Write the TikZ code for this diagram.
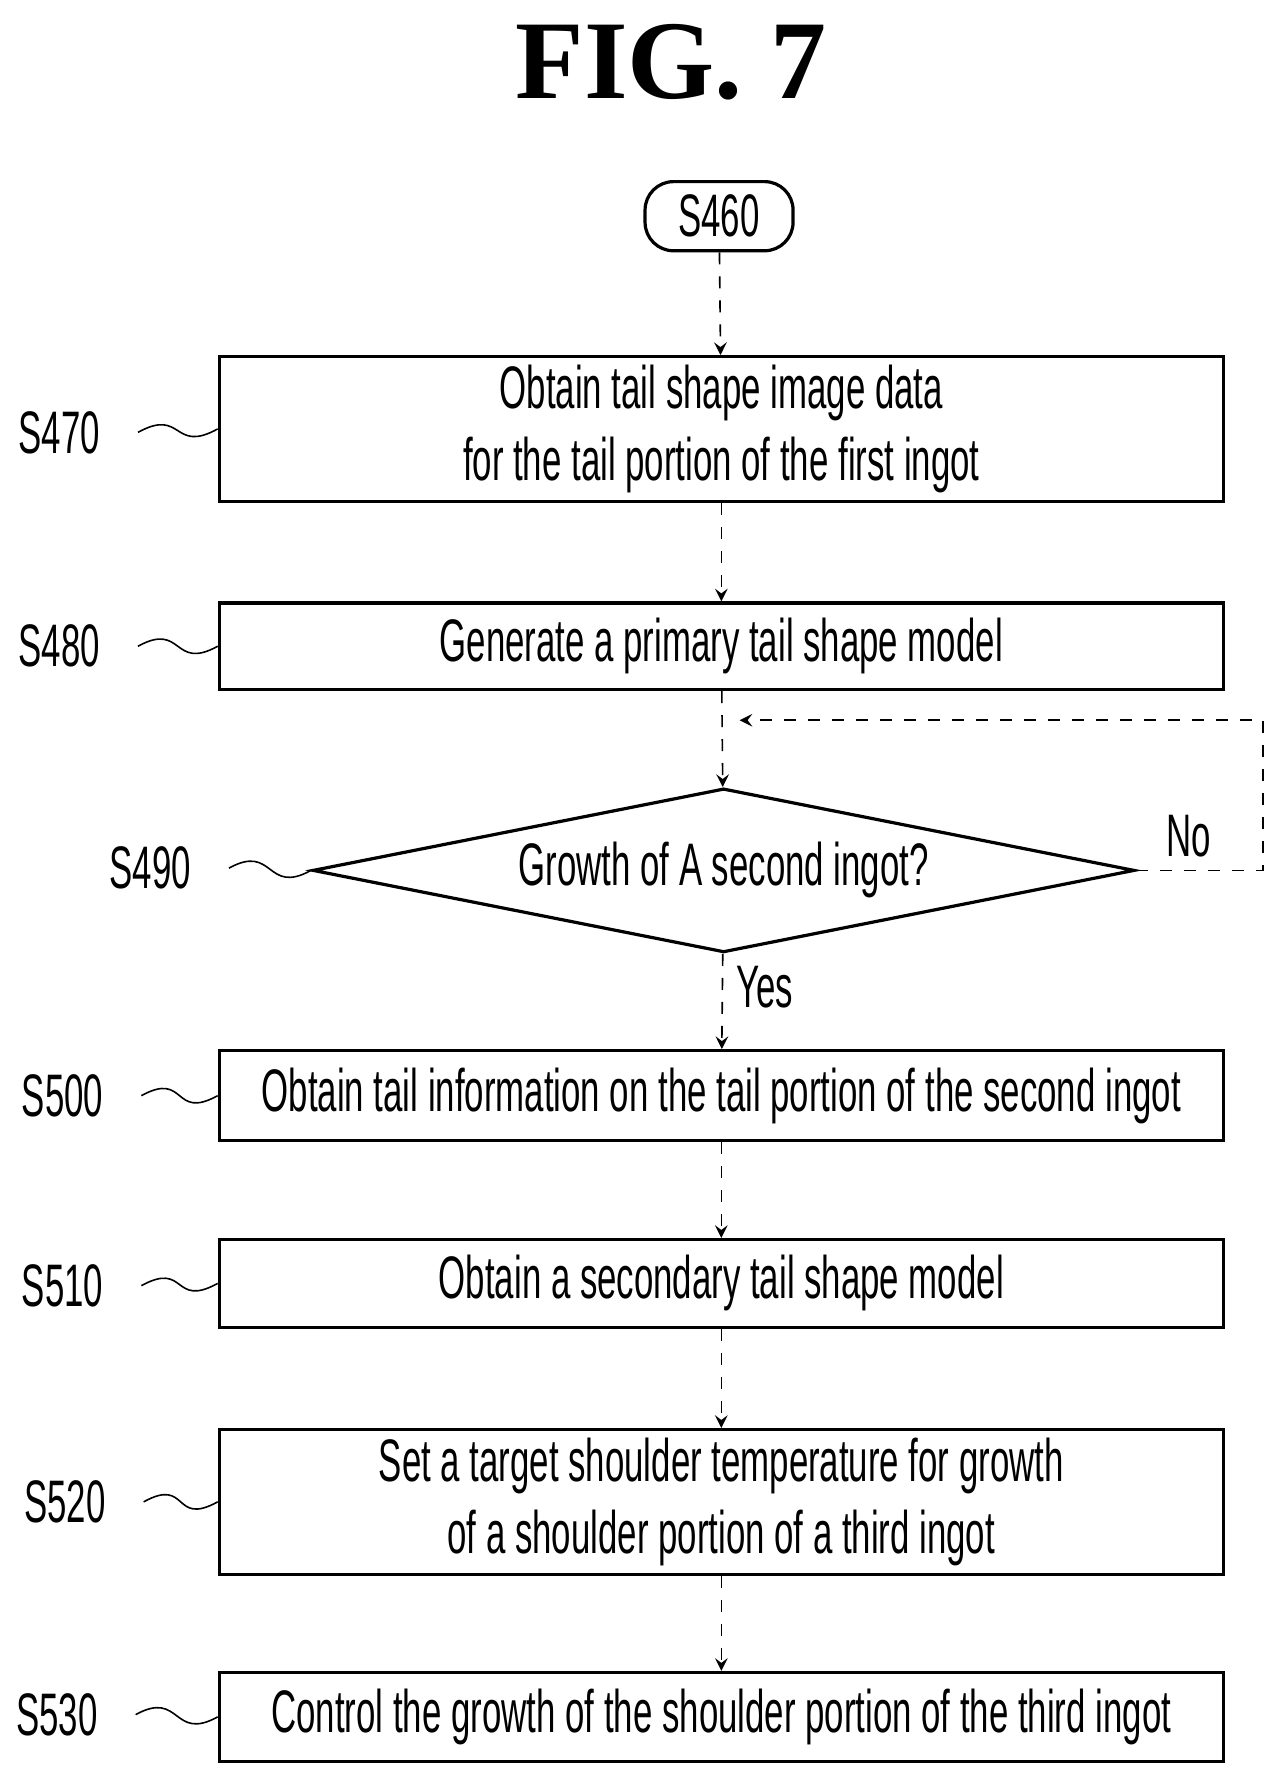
\documentclass[tikz,border=0pt]{standalone}
\usepackage{fontspec}
\setmainfont{Liberation Sans}[FakeStretch=0.58]
\newfontfamily\titlefont{Liberation Serif}
\usetikzlibrary{shapes.geometric}
\begin{document}
\begin{tikzpicture}[x=0.01cm, y=-0.01cm]
\tikzstyle{b}=[draw, thick, minimum width=8.82cm, inner sep=1pt, align=center, font=\fontsize{15}{18}\selectfont];
\tikzstyle{lab}=[font=\fontsize{15}{18}\selectfont];
\tikzstyle{e}=[->, dashed, >=stealth];
\tikzstyle{sq}=[thin];
\useasboundingbox (0,0) rectangle (1132,1568);

\node[font=\titlefont\bfseries\fontsize{28}{32}\selectfont] (title) at (590,55) {FIG. 7};
\node[draw, thick, rounded corners=0.25cm, minimum width=1.3cm, minimum height=0.5cm, lab] (s460) at (632,190) {S460};

\node[b, minimum height=1.27cm] (s470) at (634,377) {Obtain tail shape image data\\for the tail portion of the first ingot};
\node[b, minimum height=0.76cm] (s480) at (634,568) {Generate a primary tail shape model};
\node[draw, thick, diamond, aspect=5, minimum width=7.22cm, minimum height=1.44cm, inner sep=0pt, lab] (s490) at (636,765) {Growth of A second ingot?};
\node[b, minimum height=0.79cm] (s500) at (634,963) {Obtain tail information on the tail portion of the second ingot};
\node[b, minimum height=0.77cm] (s510) at (634,1128) {Obtain a secondary tail shape model};
\node[b, minimum height=1.27cm] (s520) at (634,1320) {Set a target shoulder temperature for growth\\of a shoulder portion of a third ingot};
\node[b, minimum height=0.78cm] (s530) at (634,1509) {Control the growth of the shoulder portion of the third ingot};

% step labels
\node[lab] (l470) at (52,380) {S470};
\node[lab] (l480) at (52,568) {S480};
\node[lab] (l490) at (132,763) {S490};
\node[lab] (l500) at (55,963) {S500};
\node[lab] (l510) at (55,1130) {S510};
\node[lab] (l520) at (57,1320) {S520};
\node[lab] (l530) at (50,1507) {S530};
\foreach \a/\b in {l470/s470, l480/s480, l500/s500, l510/s510, l520/s520, l530/s530, l490/s490}
  \draw[sq] ([xshift=6pt]\a.east) .. controls +(40,-22) and +(-40,22) .. (\b.west);

% flow
\draw[e] (s460) -- (s470);
\draw[e] (s470) -- (s480);
\coordinate (loop) at (1110,765);
\coordinate (top) at (1110,633);
\coordinate (in) at (636,633);
\draw[e] (s480) -- (s490);
\draw[e] (s490.east) -- (loop) -- (top) -- ([xshift=4pt]in);
\node[lab] (no) at (1045,735) {No};
\draw[e] (s490) -- node[right, lab, pos=0.35] (yes) {Yes} (s500);
\draw[e] (s500) -- (s510);
\draw[e] (s510) -- (s520);
\draw[e] (s520) -- (s530);
\end{tikzpicture}
\end{document}
